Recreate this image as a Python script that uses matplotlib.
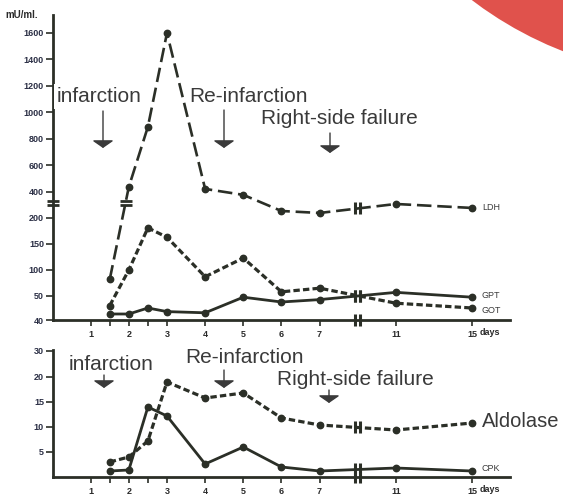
import numpy as np
import matplotlib
matplotlib.use('Agg')
import matplotlib.pyplot as plt
from matplotlib.patches import Circle, FancyArrowPatch

# ---------------- data ----------------
days = [1.5, 2, 2.5, 3, 4, 5, 6, 7, 11, 15]
ldh = [82, 435, 890, 1600, 420, 375, 253, 238, 306, 276]
got = [46, 100, 181, 163, 87, 123, 58, 65, 47, 45]
gpt = [42.5, 42.5, 45, 43.5, 43, 49.5, 47.5, 48.5, 57, 49.5]
aldolase = [3.0, 4.0, 7.2, 19.0, 15.8, 16.8, 11.8, 10.4, 9.4, 10.8]
cpk = [1.2, 1.4, 14.0, 12.2, 2.6, 6.0, 2.0, 1.2, 1.8, 1.2]

xticks = [1, 2, 3, 4, 5, 6, 7, 11, 15]
xticklabels = ['1', '2', '3', '4', '5', '6', '7', '11', '15']
xminor = [1.5, 2.5]
top_yticks = [40, 50, 100, 150, 200, 400, 600, 800, 1000, 1200, 1400, 1600]
bot_yticks = [5, 10, 15, 20, 30]
events = ['infarction', 'Re-infarction', 'Right-side failure']

# ---------------- style ----------------
W, H = 563, 497
INK = '#2b2f27'
TXT = '#3a3a3a'
FONT = ['Liberation Sans', 'DejaVu Sans']
plt.rcParams['font.family'] = FONT


def fx(x):
    return x / W


def fy(y):
    return 1 - y / H


def make_scale(xp, fp):
    xp = np.asarray(xp, float)
    fp = np.asarray(fp, float)
    return (lambda v: np.interp(v, xp, fp)), (lambda v: np.interp(v, fp, xp))


xf, xi = make_scale([-5, 0, 7, 11, 17, 40], [-5, 0, 7, 9, 12, 23.5])
tf, ti = make_scale([0, 40, 50, 200, 1600, 3000], [-96, 0, 24, 102, 287, 472])
bf, bi = make_scale([-10, 0, 20, 30, 100], [-50, 0, 100, 126, 308])

fig = plt.figure(figsize=(W / 100, H / 100), dpi=100)

# red decoration in the corner
fig.add_artist(Circle((7.00, 7.97), 3.77, transform=fig.dpi_scale_trans,
                      facecolor='#e0524c', edgecolor='none', zorder=0))

ax1 = fig.add_axes([fx(53), fy(320), 457 / W, 305 / H])
ax2 = fig.add_axes([fx(53), fy(477), 457 / W, 127 / H])

for ax, (f, i) in ((ax1, (tf, ti)), (ax2, (bf, bi))):
    ax.set_xscale('function', functions=(xf, xi))
    ax.set_yscale('function', functions=(f, i))
    ax.set_facecolor('none')
    for s in ('top', 'right'):
        ax.spines[s].set_visible(False)
    for s in ('left', 'bottom'):
        ax.spines[s].set_linewidth(2.0)
        ax.spines[s].set_color(INK)
    ax.set_xlim(0.013, 16.98)
    ax.set_xticks(xticks)
    ax.set_xticklabels(xticklabels)
    ax.set_xticks(xminor, minor=True)
    ax.tick_params(axis='x', which='both', direction='out', length=4, width=1.2,
                   color=INK, pad=3, labelsize=6.5, labelcolor='#2a2a2a')
    ax.tick_params(axis='y', which='both', direction='out', length=5, width=1.2,
                   color=INK, pad=1.5, labelsize=6.5, labelcolor='#2b2f45')
    ax.yaxis.set_minor_locator(matplotlib.ticker.NullLocator())
    for lab in ax.get_xticklabels():
        lab.set_fontweight('bold')
    ax.annotate('days', xy=(15, 0), xycoords=('data', 'axes fraction'),
                xytext=(5, -6), textcoords='offset points', ha='left', va='top',
                fontsize=6.5, fontweight='bold', color='#2a2a2a')

ax1.set_ylim(40, 1736)
ax1.set_yticks(top_yticks)
ax1.set_yticklabels([str(v) for v in top_yticks])
for lab in ax1.get_yticklabels():
    lab.set_fontweight('bold')
ax2.set_ylim(0, 30.38)
ax2.set_yticks(bot_yticks)
ax2.set_yticklabels([str(v) for v in bot_yticks])
for lab in ax2.get_yticklabels():
    lab.set_fontweight('bold')

mk = dict(marker='o', markersize=4.6, color=INK, markerfacecolor=INK,
          markeredgecolor=INK, zorder=3)
ax1.plot(days, ldh, lw=1.9, dashes=(5.5, 2.2), **mk)
ax1.plot(days, got, lw=2.3, dashes=(2.0, 1.0), **mk)
ax1.plot(days, gpt, lw=2.0, **mk)
ax2.plot(days, aldolase, lw=2.3, dashes=(2.0, 1.0), **mk)
ax2.plot(days, cpk, lw=2.0, **mk)

# series labels
ax1.annotate('LDH', xy=(15, ldh[-1]), xytext=(7, 0), textcoords='offset points',
             va='center', ha='left', fontsize=6.5, color=TXT)
ax1.annotate('GPT', xy=(15, gpt[-1]), xytext=(7, 1), textcoords='offset points',
             va='center', ha='left', fontsize=6.5, color=TXT)
ax1.annotate('GOT', xy=(15, got[-1]), xytext=(7, -2), textcoords='offset points',
             va='center', ha='left', fontsize=6.5, color=TXT)
ax2.annotate('Aldolase', xy=(15, aldolase[-1]), xytext=(7, 1), textcoords='offset points',
             va='center', ha='left', fontsize=14.5, color=TXT)
ax2.annotate('CPK', xy=(15, cpk[-1]), xytext=(7, 1.5), textcoords='offset points',
             va='center', ha='left', fontsize=6.5, color=TXT)

fig.text(fx(5), fy(15), 'mU/ml.', fontsize=7, fontweight='bold', color='#2a2a2a',
         va='center', ha='left')

# axis breaks on the day axis
xb = [float(xi(7.94)), float(xi(8.06))]
bm = dict(marker='|', markersize=8.5, markeredgewidth=2.2, color=INK,
          linestyle='none', zorder=4, clip_on=False)


def mid_value(series, f, i):
    return float(i((f(series[7]) + f(series[8])) / 2))


for ax, f, i, series_list in ((ax1, tf, ti, [ldh, got, gpt]),
                              (ax2, bf, bi, [aldolase, cpk])):
    for s in series_list:
        v = mid_value(s, f, i)
        ax.plot(xb, [v, v], **bm)
    lo = ax.get_ylim()[0]
    ax.plot(xb, [lo, lo], **bm)

# value-axis break on the upper panel
hb = dict(marker='_', markersize=8, markeredgewidth=2.0, color=INK,
          linestyle='none', zorder=4, clip_on=False)
brk = [float(ti(115)), float(ti(119))]
ax1.plot([0.013, 0.013], brk, **hb)
t = (117 - tf(ldh[0])) / (tf(ldh[1]) - tf(ldh[0]))
xc = days[0] + (days[1] - days[0]) * t
ax1.plot([xc, xc], brk, **hb)

# event annotations (pixel layout)
txt_top = [(57, 102), (189, 102), (261, 124)]
arr_top = [(103, 111, 148), (224, 110, 148), (330, 133, 153)]
txt_bot = [(69, 370), (185, 363), (277, 385)]
arr_bot = [(104, 375, 388), (224, 370, 388), (329, 390, 403)]

for txts, arrs in ((txt_top, arr_top), (txt_bot, arr_bot)):
    for k, name in enumerate(events):
        x, y = txts[k]
        bbox = None
        if k == 0 and txts is txt_top:
            bbox = dict(boxstyle='square,pad=0.15', facecolor='white', edgecolor='none')
        fig.text(fx(x), fy(y), name, fontsize=15, color=TXT, ha='left',
                 va='baseline', bbox=bbox, zorder=5)
        ax_, y0, y1 = arrs[k]
        fig.add_artist(FancyArrowPatch((fx(ax_), fy(y0)), (fx(ax_), fy(y1)),
                                       transform=fig.transFigure,
                                       arrowstyle='-|>,head_length=0.45,head_width=0.65',
                                       mutation_scale=10, lw=1.0, color=TXT,
                                       shrinkA=0, shrinkB=0, zorder=5))

fig.savefig('out.png', dpi=100)
